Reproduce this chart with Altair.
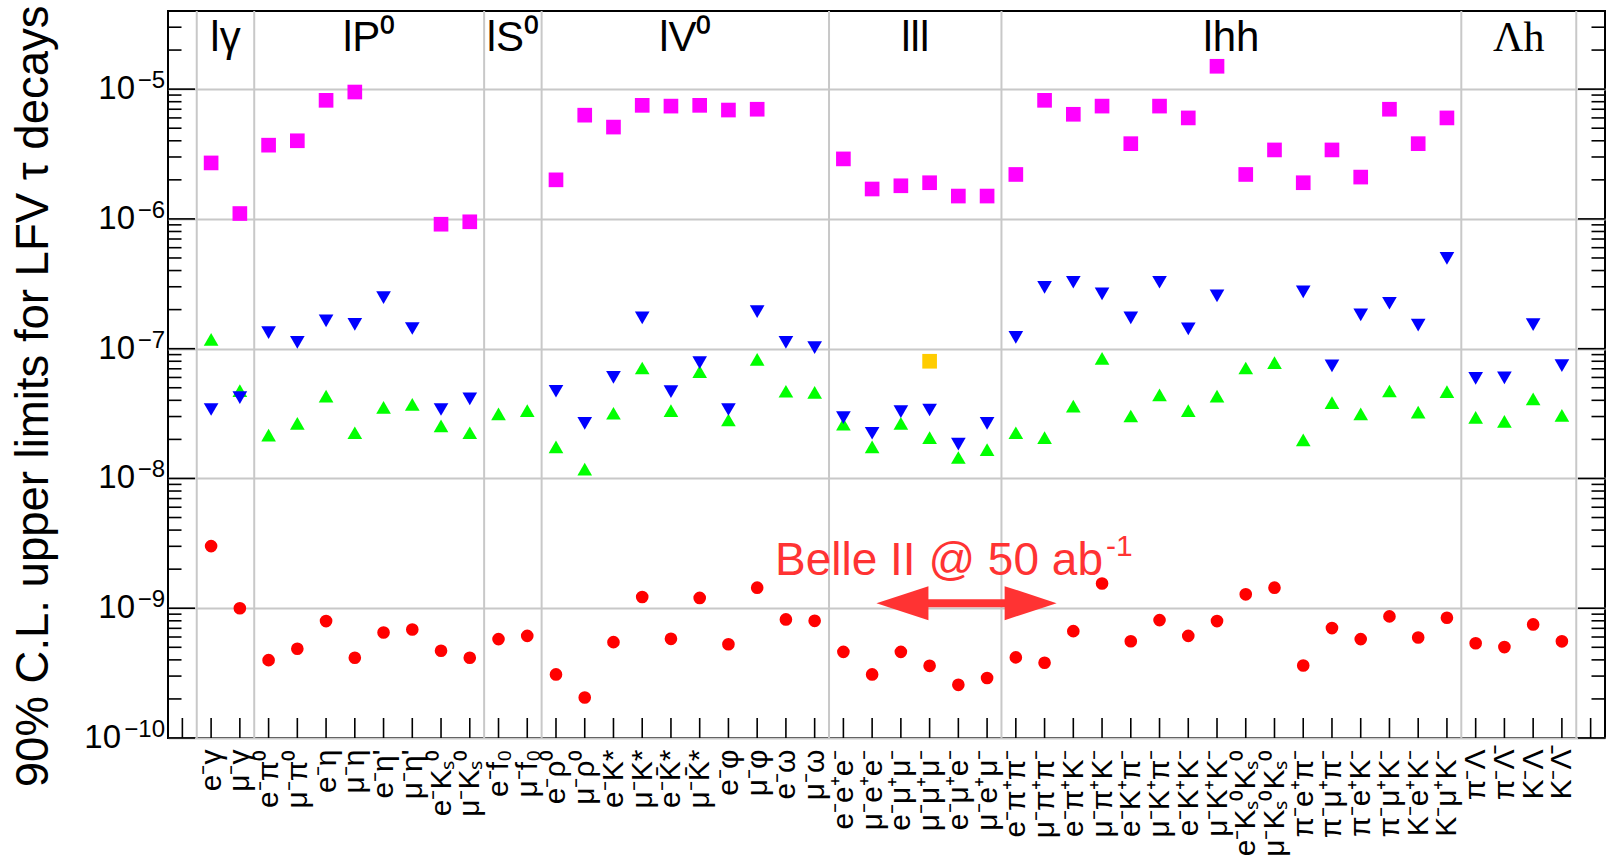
import json
import altair as alt
import pandas as pd

# ---------------- data ----------------
labels = [
    "e⁻γ", "μ⁻γ",
    "e⁻π⁰", "μ⁻π⁰", "e⁻η", "μ⁻η", "e⁻η'", "μ⁻η'", "e⁻Kₛ⁰", "μ⁻Kₛ⁰",
    "e⁻f₀", "μ⁻f₀",
    "e⁻ρ⁰", "μ⁻ρ⁰", "e⁻K*", "μ⁻K*", "e⁻K̄*", "μ⁻K̄*", "e⁻φ", "μ⁻φ", "e⁻ω", "μ⁻ω",
    "e⁻e⁺e⁻", "μ⁻e⁺e⁻", "e⁻μ⁺μ⁻", "μ⁻μ⁺μ⁻", "e⁻μ⁺e⁻", "μ⁻e⁺μ⁻",
    "e⁻π⁺π⁻", "μ⁻π⁺π⁻", "e⁻π⁺K⁻", "μ⁻π⁺K⁻", "e⁻K⁺π⁻", "μ⁻K⁺π⁻", "e⁻K⁺K⁻", "μ⁻K⁺K⁻",
    "e⁻Kₛ⁰Kₛ⁰", "μ⁻Kₛ⁰Kₛ⁰", "π⁻e⁺π⁻", "π⁻μ⁺π⁻", "π⁻e⁺K⁻", "π⁻μ⁺K⁻", "K⁻e⁺K⁻", "K⁻μ⁺K⁻",
    "π⁻Λ", "π⁻Λ̄", "K⁻Λ", "K⁻Λ̄",
]

magenta = [2.7e-6, 1.1e-6, 3.7e-6, 4.0e-6, 8.2e-6, 9.5e-6, None, None, 9.1e-7, 9.5e-7,
           None, None, 2.0e-6, 6.3e-6, 5.1e-6, 7.5e-6, 7.4e-6, 7.5e-6, 6.9e-6, 7.0e-6,
           None, None, 2.9e-6, 1.7e-6, 1.8e-6, 1.9e-6, 1.5e-6, 1.5e-6, 2.2e-6, 8.2e-6,
           6.4e-6, 7.4e-6, 3.8e-6, 7.4e-6, 6.0e-6, 1.5e-5, 2.2e-6, 3.4e-6, 1.9e-6, 3.4e-6,
           2.1e-6, 7.0e-6, 3.8e-6, 6.0e-6, None, None, None, None]

blue = [3.4e-8, 4.2e-8, 1.33e-7, 1.12e-7, 1.64e-7, 1.54e-7, 2.47e-7, 1.43e-7, 3.4e-8, 4.1e-8,
        None, None, 4.7e-8, 2.66e-8, 6.0e-8, 1.73e-7, 4.67e-8, 7.8e-8, 3.4e-8, 1.93e-7,
        1.12e-7, 1.02e-7, 2.94e-8, 2.23e-8, 3.27e-8, 3.37e-8, 1.84e-8, 2.66e-8, 1.22e-7, 2.97e-7,
        3.25e-7, 2.64e-7, 1.73e-7, 3.25e-7, 1.42e-7, 2.55e-7, None, None, 2.74e-7, 7.36e-8,
        1.82e-7, 2.24e-7, 1.52e-7, 4.96e-7, 5.9e-8, 5.95e-8, 1.53e-7, 7.4e-8]

green = [1.18e-7, 4.75e-8, 2.16e-8, 2.66e-8, 4.31e-8, 2.25e-8, 3.53e-8, 3.72e-8, 2.54e-8, 2.25e-8,
         3.14e-8, 3.33e-8, 1.75e-8, 1.18e-8, 3.18e-8, 7.1e-8, 3.33e-8, 6.65e-8, 2.82e-8, 8.28e-8,
         4.7e-8, 4.6e-8, 2.62e-8, 1.75e-8, 2.66e-8, 2.06e-8, 1.45e-8, 1.67e-8, 2.25e-8, 2.06e-8,
         3.61e-8, 8.43e-8, 3.03e-8, 4.4e-8, 3.33e-8, 4.31e-8, 7.1e-8, 7.8e-8, 1.98e-8, 3.84e-8,
         3.14e-8, 4.72e-8, 3.24e-8, 4.66e-8, 2.96e-8, 2.75e-8, 4.11e-8, 3.06e-8]

red = [3.01e-9, 1.0e-9, 3.98e-10, 4.87e-10, 7.96e-10, 4.15e-10, 6.5e-10, 6.86e-10, 4.7e-10, 4.15e-10,
       5.78e-10, 6.12e-10, 3.09e-10, 2.05e-10, 5.48e-10, 1.22e-9, 5.81e-10, 1.2e-9, 5.28e-10, 1.44e-9,
       8.2e-10, 8.0e-10, 4.61e-10, 3.09e-10, 4.61e-10, 3.6e-10, 2.57e-10, 2.9e-10, 4.18e-10, 3.8e-10,
       6.66e-10, 1.55e-9, 5.57e-10, 8.1e-10, 6.12e-10, 7.96e-10, 1.28e-9, 1.44e-9, 3.62e-10, 7.03e-10,
       5.78e-10, 8.65e-10, 5.95e-10, 8.45e-10, 5.37e-10, 5.02e-10, 7.5e-10, 5.56e-10]

orange_channel = ["μ⁻μ⁺μ⁻"]
orange = [8.0e-8]

group_names = ["lγ", "lP⁰", "lS⁰", "lV⁰", "lll", "lhh", "Λh"]
group_serif = [False, False, False, False, False, False, True]
group_edges = [1, 3, 11, 13, 23, 29, 45, 49]

decades = [1e-10, 1e-9, 1e-8, 1e-7, 1e-6, 1e-5]
decade_exponents = ["−10", "−9", "−8", "−7", "−6", "−5"]

annot_main = "Belle II @ 50 ab"
annot_sup = "-1"

# ---------------- helpers ----------------
FONT = "Liberation Sans"
SERIF = "Liberation Serif"
X_MAX = 50
Y_MIN, Y_MAX = 1e-10, 4e-5
xpos = [i + 1.5 for i in range(len(labels))]

def series_df(vals):
    return pd.DataFrame({"x": [xpos[i] for i, v in enumerate(vals) if v is not None],
                         "y": [v for v in vals if v is not None]})

x_scale = alt.Scale(domain=[0, X_MAX], nice=False, zero=False)
y_scale = alt.Scale(type="log", domain=[Y_MIN, Y_MAX], nice=False)

x_axis = alt.Axis(values=xpos,
                  labelExpr=json.dumps(labels, ensure_ascii=False) + "[round(datum.value - 1.5)]",
                  labelAngle=270, labelAlign="right", labelBaseline="middle",
                  labelFontSize=30, labelFont=FONT, labelColor="black", labelPadding=11,
                  labelOverlap=False, labelFlush=False, ticks=False, domain=False, grid=False,
                  title=None)
y_axis = alt.Axis(values=decades, labels=False,
                  ticks=False, domain=False, grid=True, gridColor="#c8c8c8", gridWidth=2,
                  title="90% C.L. upper limits for LFV τ decays",
                  titleFont=FONT, titleFontSize=45.5, titleFontWeight="normal", titleColor="black",
                  titleAngle=270, titleAlign="right", titleBaseline="alphabetic",
                  titleX=-121, titleY=-6)

X = lambda f="x": alt.X(f + ":Q", scale=x_scale, axis=x_axis)
Y = lambda f="y": alt.Y(f + ":Q", scale=y_scale, axis=y_axis)

# ---------------- layers ----------------
vgrid = alt.Chart(pd.DataFrame({"x": group_edges})).mark_rule(
    color="#c8c8c8", strokeWidth=2).encode(x=X())

# inner ticks on left / right / bottom (derived from the scales)
minor_vals = []
for d in decades:
    for k in range(2, 10):
        v = k * d
        if v < Y_MAX:
            minor_vals.append(v)
ytick_rows = []
for v in decades:
    ytick_rows.append({"y": v, "x": 0, "x2": 0.94})
    ytick_rows.append({"y": v, "x": X_MAX - 0.94, "x2": X_MAX})
for v in minor_vals:
    ytick_rows.append({"y": v, "x": 0, "x2": 0.47})
    ytick_rows.append({"y": v, "x": X_MAX - 0.47, "x2": X_MAX})
yticks = alt.Chart(pd.DataFrame(ytick_rows)).mark_rule(color="black", strokeWidth=1.6).encode(
    x=X(), x2="x2:Q", y=Y())

xtick_df = pd.DataFrame({"x": [i + 0.5 for i in range(X_MAX)],
                         "y": [Y_MIN] * X_MAX, "y2": [Y_MIN * 10 ** 0.154] * X_MAX})
xticks = alt.Chart(xtick_df).mark_rule(color="black", strokeWidth=1.6).encode(
    x=X(), y=Y(), y2="y2:Q")

# y tick labels: "10" with a raised exponent
ylab_df = pd.DataFrame({"y": decades, "base": ["10"] * len(decades), "exp": decade_exponents,
                        "long": [len(e) > 2 for e in decade_exponents]})
ylab_exp = alt.Chart(ylab_df).mark_text(
    font=FONT, fontSize=24, color="black", align="right", baseline="alphabetic", dx=-3, dy=-1
).encode(x=alt.value(0), y=Y(), text="exp:N")
ylab_base_short = alt.Chart(ylab_df).transform_filter("!datum.long").mark_text(
    font=FONT, fontSize=33, color="black", align="right", baseline="middle", dx=-33
).encode(x=alt.value(0), y=Y(), text="base:N")
ylab_base_long = alt.Chart(ylab_df).transform_filter("datum.long").mark_text(
    font=FONT, fontSize=33, color="black", align="right", baseline="middle", dx=-47
).encode(x=alt.value(0), y=Y(), text="base:N")

def pts(vals, shape, color, size):
    return alt.Chart(series_df(vals)).mark_point(
        shape=shape, filled=True, color=color, size=size, opacity=1, strokeWidth=0
    ).encode(x=X(), y=Y())

l_mag = pts(magenta, "square", "#ff00ff", 215)
orange_df = pd.DataFrame({"x": [xpos[labels.index(c)] for c in orange_channel], "y": orange})
l_orange = alt.Chart(orange_df).mark_point(
    shape="square", filled=True, color="#ffcc00", size=215, opacity=1, strokeWidth=0
).encode(x=X(), y=Y())
l_green = pts(green, "triangle-up", "#00ff00", 215)
l_blue = pts(blue, "triangle-down", "#0000ff", 215)
l_red = pts(red, "circle", "#ff0000", 160)

grp_df = pd.DataFrame({"x": [(a + b) / 2 for a, b in zip(group_edges[:-1], group_edges[1:])],
                       "y": [1.97e-5] * len(group_names), "t": group_names, "serif": group_serif})
grp_text = alt.Chart(grp_df).transform_filter("!datum.serif").mark_text(
    font=FONT, fontSize=42, color="black", align="center", baseline="alphabetic"
).encode(x=X(), y=Y(), text="t:N")
grp_text_serif = alt.Chart(grp_df).transform_filter("datum.serif").mark_text(
    font=SERIF, fontSize=42, color="black", align="center", baseline="alphabetic"
).encode(x=X(), y=Y(), text="t:N")

ANN_COLOR = "#ff3333"
ann_df = pd.DataFrame({"x": [21.12], "y": [1.8e-9], "t": [annot_main], "s": [annot_sup]})
ann_text = alt.Chart(ann_df).mark_text(
    font=FONT, fontSize=46, color=ANN_COLOR, align="left", baseline="alphabetic"
).encode(x=X(), y=Y(), text="t:N")
ann_sup = alt.Chart(ann_df).mark_text(
    font=FONT, fontSize=30, color=ANN_COLOR, align="left", baseline="alphabetic", dx=331, dy=-19
).encode(x=X(), y=Y(), text="s:N")

arrow_x0, arrow_x1, arrow_y = 24.65, 30.92, 1.094e-9
shaft = alt.Chart(pd.DataFrame({"x": [arrow_x0 + 1.0], "x2": [arrow_x1 - 1.0], "y": [arrow_y]})).mark_rule(
    color=ANN_COLOR, strokeWidth=8).encode(x=X(), x2="x2:Q", y=Y())
head_l = alt.Chart(pd.DataFrame({"x": [arrow_x0], "y": [arrow_y]})).mark_point(
    shape="M0,0L2,-0.654L2,0.654Z", size=2704, filled=True, color=ANN_COLOR, opacity=1, strokeWidth=0
).encode(x=X(), y=Y())
head_r = alt.Chart(pd.DataFrame({"x": [arrow_x1], "y": [arrow_y]})).mark_point(
    shape="M0,0L-2,-0.654L-2,0.654Z", size=2704, filled=True, color=ANN_COLOR, opacity=1, strokeWidth=0
).encode(x=X(), y=Y())

chart = alt.layer(
    vgrid, yticks, xticks, ylab_exp, ylab_base_short, ylab_base_long,
    l_mag, l_orange, l_green, l_blue, l_red,
    grp_text, grp_text_serif, ann_text, ann_sup, shaft, head_l, head_r
).properties(
    width=1437, height=727,
    autosize=alt.AutoSizeParams(type="none"),
    padding={"left": 168, "top": 11, "right": 7, "bottom": 128},
    background="white",
).configure_view(stroke="black", strokeWidth=2)

chart.save("out.html", embed_options={"renderer": "svg", "actions": False})
